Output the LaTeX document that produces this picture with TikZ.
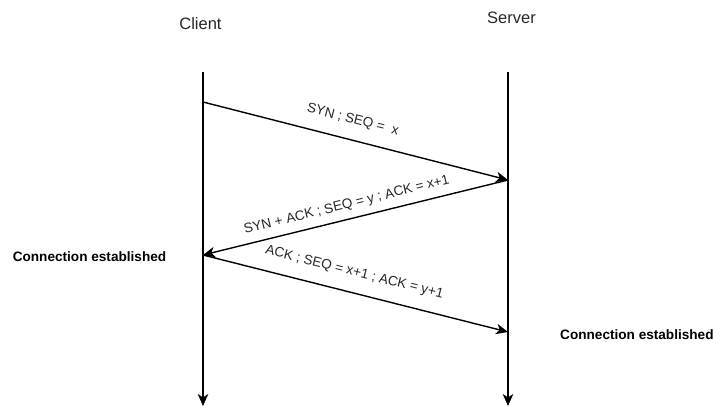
\documentclass[tikz,border=0pt]{standalone}
\usepackage{fontspec}
\setmainfont{Liberation Sans}
\usetikzlibrary{arrows.meta}

\begin{document}
\begin{tikzpicture}[x=1pt, y=-1pt,
    lifeline/.style={line width=1.4pt, -{Stealth[length=12pt, width=10.5pt, inset=3.5pt]}},
    msg/.style={line width=1.4pt, -{Stealth[length=12pt, width=10.5pt, inset=3.5pt]}},
    party/.style={font=\fontsize{16.5}{18}\selectfont, text=black!85, inner sep=0pt, anchor=base},
    status/.style={font=\bfseries\fontsize{13.6}{16}\selectfont, inner sep=0pt, anchor=base},
    msglabel/.style={font=\fontsize{13.6}{15}\selectfont, text=black!85, inner sep=0pt, sloped}
  ]
  % canvas
  \useasboundingbox (0,0) rectangle (713,406);

  % party names
  \node[party] (client) at (200.5,30) {Client};
  \node[party] (server) at (511.5,24) {Server};

  % lifeline anchor points
  \coordinate (c0) at (203,72);
  \coordinate (c1) at (203,102);
  \coordinate (c2) at (203,255);
  \coordinate (cEnd) at (203,406);
  \coordinate (s0) at (508,72);
  \coordinate (s1) at (508,180);
  \coordinate (s2) at (508,332);
  \coordinate (sEnd) at (508,406);

  % lifelines
  \draw[lifeline] (c0) -- (cEnd);
  \draw[lifeline] (s0) -- (sEnd);

  % handshake messages
  \draw[msg] (c1) -- node[msglabel, pos=0.475, above=13pt] {SYN ; SEQ =~~x} (s1);
  \draw[msg] (s1) -- node[msglabel, pos=0.518, above=7pt] {SYN + ACK ; SEQ = y ; ACK = x+1} (c2);
  \draw[msg] (c2) -- node[msglabel, pos=0.48, above=13pt] {ACK ; SEQ = x+1 ; ACK = y+1} (s2);

  % connection state
  \node[status] (estC) at (89.5,261.5) {Connection established};
  \node[status, anchor=base west] (estS) at (560,340) {Connection established};
\end{tikzpicture}
\end{document}
